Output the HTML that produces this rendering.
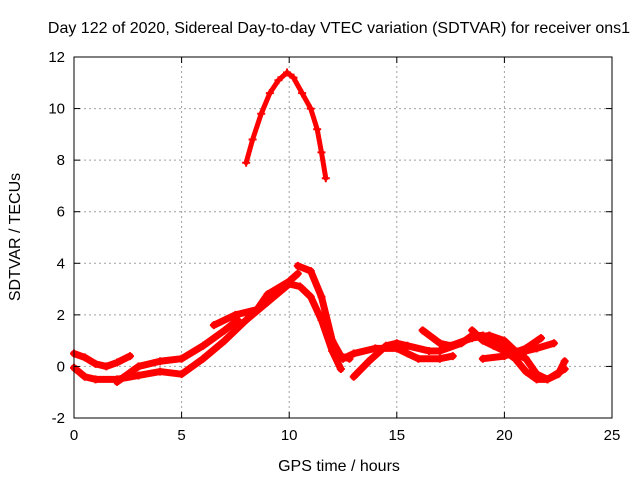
<!DOCTYPE html>
<html><head><meta charset="utf-8"><style>
body{margin:0;background:#fff}
svg text{font-family:"Liberation Sans",sans-serif;font-size:15px;fill:#000}
svg text.big{font-size:16px}
</style></head><body>
<svg id="chart" width="640" height="480" xmlns="http://www.w3.org/2000/svg">
<rect width="640" height="480" fill="#fff"/>
<text class="big" x="339" y="33" text-anchor="middle">Day 122 of 2020, Sidereal Day-to-day VTEC variation (SDTVAR) for receiver ons1</text>
<text class="big" x="339" y="471" text-anchor="middle">GPS time / hours</text>
<text class="big" transform="translate(20,237) rotate(-90)" text-anchor="middle">SDTVAR / TECUs</text>
<g id="grid"></g><g id="data"></g><g id="axes"></g>
</svg>
<script>
const xTicks=[0,5,10,15,20,25];
const yTicks=[-2,0,2,4,6,8,10,12];
const trackArc=[[8,7.9],[8.3,8.8],[8.7,9.8],[9.1,10.6],[9.5,11.1],[9.9,11.4],[10.2,11.2],[10.6,10.6],[11,10],[11.3,9.2],[11.5,8.3],[11.7,7.3]];
const trackA=[[0,0.5],[0.5,0.35],[1,0.1],[1.5,0],[2,0.15],[2.6,0.4]];
const trackB=[[0,-0.05],[0.5,-0.4],[1,-0.5],[2,-0.5],[3,-0.35],[4,-0.2],[5,-0.3],[6,0.3],[7,1],[8,1.8],[9,2.5],[10,3.2],[10.5,3.1],[11,2.7],[11.5,1.8],[12,0.6],[12.4,-0.1]];
const trackC=[[2,-0.6],[3,0],[4,0.2],[5,0.3],[6,0.8],[7,1.4],[7.6,1.8]];
const trackD=[[6.5,1.6],[7.5,2],[8.5,2.2],[9,2.8],[10,3.3],[10.4,3.6]];
const trackE=[[10.4,3.9],[11,3.7],[11.5,2.7],[12,1],[12.4,0.4],[12.8,0.3]];
const trackF=[[12.5,0.3],[13,0.5],[14,0.7],[15,0.7],[15.5,0.5],[16,0.3],[17,0.3],[17.6,0.4]];
const trackG=[[13,-0.4],[13.7,0.2],[14.5,0.8],[15,0.9],[15.5,0.8],[16.5,0.6],[17,0.6],[18,0.9],[18.5,1.2],[19,1.2],[19.5,1.1],[20,0.7],[21,0.3],[21.5,-0.3],[22,-0.5],[22.8,-0.1]];
const trackH=[[16.2,1.4],[17,0.9],[17.5,0.8],[18.5,1.1],[19.3,1.2],[20,1],[20.5,0.6],[21,0.6],[21.5,0.7],[22.3,0.9]];
const trackI=[[18.5,1.4],[19,1],[19.5,0.8],[20,0.6],[20.5,0.3],[21,-0.2],[21.5,-0.5],[22,-0.5],[22.5,-0.3],[22.8,0.2]];
const trackJ=[[19,0.3],[20,0.4],[21,0.7],[21.7,1.1]];
const tracks=[trackArc,trackA,trackB,trackC,trackD,trackE,trackF,trackG,trackH,trackI,trackJ];
const X0=74,X1=612,Y0=418,Y1=57;
const sx=v=>X0+(v-0)/(25-0)*(X1-X0);
const sy=v=>Y0-(v+2)/(14)*(Y0-Y1);
const NS="http://www.w3.org/2000/svg";
const mk=(t,a,p)=>{const e=document.createElementNS(NS,t);for(const k in a)e.setAttribute(k,a[k]);p.appendChild(e);return e;};
const grid=document.getElementById('grid'),axes=document.getElementById('axes'),data=document.getElementById('data');
xTicks.forEach(t=>{
 if(t>0&&t<25){const g=mk('line',{x1:sx(t),x2:sx(t),y1:Y0,y2:Y1,stroke:'#a0a0a0','stroke-dasharray':'2,3'},grid);
 
 }
 const tx=mk('text',{x:sx(t),y:Y0+22,'text-anchor':'middle'},axes);tx.textContent=t;
 
 
 mk('line',{x1:sx(t),x2:sx(t),y1:Y0,y2:Y0-6,stroke:'#000'},axes);
 mk('line',{x1:sx(t),x2:sx(t),y1:Y1,y2:Y1+6,stroke:'#000'},axes);
});
yTicks.forEach(t=>{
 if(t>-2&&t<12){const g=mk('line',{x1:X0,x2:X1,y1:sy(t),y2:sy(t),stroke:'#a0a0a0','stroke-dasharray':'2,3'},grid);
 
 }
 const tx=mk('text',{x:X0-9,y:sy(t)+5,'text-anchor':'end'},axes);tx.textContent=t;
 
 
 mk('line',{x1:X0,x2:X0+6,y1:sy(t),y2:sy(t),stroke:'#000'},axes);
 mk('line',{x1:X1,x2:X1-6,y1:sy(t),y2:sy(t),stroke:'#000'},axes);
});
const box=mk('rect',{x:X0,y:Y1,width:X1-X0,height:Y0-Y1,fill:'none',stroke:'#000'},axes);


tracks.forEach((tr,i)=>{
 const pl=mk('polyline',{points:tr.map(p=>sx(p[0])+','+sy(p[1])).join(' '),fill:'none',stroke:'#ff0000','stroke-width':i===0?5:7,'stroke-linejoin':'round','stroke-linecap':'round'},data);
 
 
 tr.forEach(p=>{
  const m=mk('path',{d:`M${sx(p[0])-4},${sy(p[1])}h8M${sx(p[0])},${sy(p[1])-4}v8`,stroke:'#ff0000','stroke-width':2},data);
  
  
 });
});
</script>
</body></html>
